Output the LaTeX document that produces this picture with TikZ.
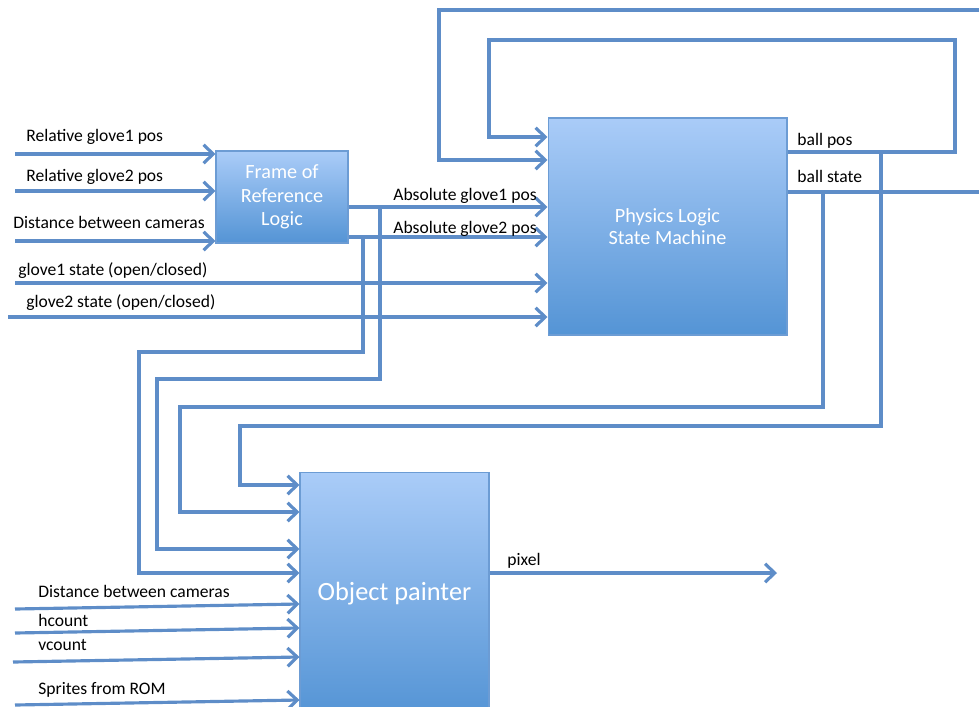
\documentclass[tikz,border=0pt]{standalone}
\usepackage{fontspec}
\setmainfont{Carlito}
\usetikzlibrary{arrows.meta,shadows,calc}
\definecolor{wirecol}{RGB}{94,141,200}
\definecolor{boxtop}{RGB}{170,204,248}
\definecolor{boxbot}{RGB}{84,148,213}
\definecolor{boxline}{RGB}{108,156,212}
\begin{document}
\begin{tikzpicture}[x=0.02cm, y=-0.02cm,
        block/.style={rectangle, draw=boxline, line width=0.6pt, top color=boxtop, bottom color=boxbot, text=white, align=center,
            drop shadow={opacity=0.2, shadow xshift=0.6pt, shadow yshift=-0.8pt}},
        wire/.style={draw=wirecol, line width=1.8pt},
        flow/.style={wire, -{Straight Barb[length=5.5pt, width=10.5pt]}},
        lbl/.style={anchor=base west, inner sep=0pt, font=\fontsize{10}{12}\selectfont}]
    \clip (0,0) rectangle (979,706);
    % blocks
    \node[block, minimum width=2.64cm, minimum height=1.84cm, font=\fontsize{11.5}{13.5}\selectfont] (fr) at (282,197) {Frame of\\Reference\\Logic};
    \node[block, minimum width=4.78cm, minimum height=4.34cm, font=\fontsize{11.5}{13}\selectfont] (phys) at (667.5,226.5) {Physics Logic\\State Machine};
    \node[block, minimum width=3.78cm, minimum height=4.88cm, font=\fontsize{15}{18}\selectfont] (op) at (394.5,594) {Object painter};
    % free ends and branch points
    \coordinate (r1) at (15,154);
    \coordinate (r2) at (15,191);
    \coordinate (r3) at (15,241);
    \coordinate (s1) at (15,283);
    \coordinate (s2) at (8,317);
    \coordinate (dc) at (15,609);
    \coordinate (hc) at (15,633);
    \coordinate (vc) at (13,662);
    \coordinate (rom) at (15,705);
    \coordinate (px) at (777,573);
    \coordinate (a1) at (380,207);
    \coordinate (a2) at (363,237);
    \coordinate (bp) at (881,152);
    \coordinate (bs) at (823,192);
    % inputs
    \draw[flow] (r1) -- (fr.west |- r1);
    \draw[flow] (r2) -- (fr.west |- r2);
    \draw[flow] (r3) -- (fr.west |- r3);
    \draw[flow] (s1) -- (phys.west |- s1);
    \draw[flow] (s2) -- (phys.west |- s2);
    \draw[flow] (fr.east |- a1) -- (phys.west |- a1);
    \draw[flow] (fr.east |- a2) -- (phys.west |- a2);
    % feedback loops
    \draw[flow] (phys.east |- bp) -- (955,152) |- (489,40) |- (phys.west |- 0,137);
    \draw[flow] (990,10) -| (439,160) -- (phys.west |- 0,160);
    \draw[wire] (phys.east |- bs) -- (990,192);
    % buses down to the painter
    \draw[flow] (bp) |- (240,426) |- (op.west |- 0,485);
    \draw[flow] (bs) |- (180,407) |- (op.west |- 0,512);
    \draw[flow] (a1) |- (157,379) |- (op.west |- 0,549);
    \draw[flow] (a2) |- (139,352) |- (op.west |- 0,573);
    \draw[flow] (dc) -- ($(op.west |- dc)+(0,-5)$);
    \draw[flow] (hc) -- ($(op.west |- hc)+(0,-5)$);
    \draw[flow] (vc) -- ($(op.west |- vc)+(0,-5)$);
    \draw[flow] (rom) -- ($(op.west |- rom)+(0,-5)$);
    \draw[flow] (op.east |- px) -- (px);
    % labels
    \node[lbl] (l1) at (26,141.7) {Relative glove1 pos};
    \node[lbl] (l2) at (26,181.7) {Relative glove2 pos};
    \node[lbl] (l3) at (13,228.7) {Distance between cameras};
    \node[lbl] (l4) at (18,275.7) {glove1 state (open/closed)};
    \node[lbl] (l5) at (26,307.7) {glove2 state (open/closed)};
    \node[lbl] (l6) at (393,200) {Absolute glove1 pos};
    \node[lbl] (l7) at (393,233.3) {Absolute glove2 pos};
    \node[lbl] (l8) at (797,145.7) {ball pos};
    \node[lbl] (l9) at (797,182.3) {ball state};
    \node[lbl] (l10) at (38,597.7) {Distance between cameras};
    \node[lbl] (l11) at (38,626.7) {hcount};
    \node[lbl] (l12) at (38,650) {vcount};
    \node[lbl] (l13) at (38,694) {Sprites from ROM};
    \node[lbl] (l14) at (507,565) {pixel};
\end{tikzpicture}
\end{document}
